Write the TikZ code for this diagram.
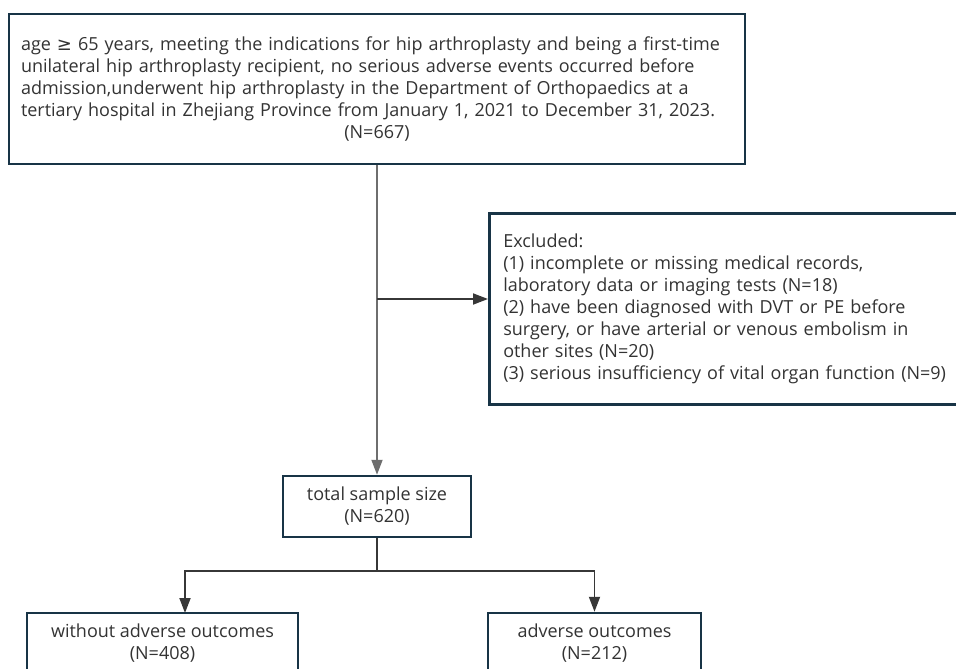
\documentclass[tikz,border=0pt]{standalone}
\usepackage{fontspec}
\setmainfont{Open Sans}
\newfontfamily\symfont{DejaVu Sans}
\usetikzlibrary{arrows.meta}
\definecolor{boxc}{RGB}{24,52,70}
\definecolor{txtc}{RGB}{51,51,51}
\definecolor{linec}{RGB}{55,55,55}
\definecolor{linelight}{RGB}{110,110,110}
\begin{document}
\begin{tikzpicture}[x=1pt,y=-1pt,
  box/.style={draw=boxc, line width=2.5pt, fill=white, text=txtc,
    font=\fontsize{18}{22}\selectfont, inner sep=0pt},
  conn/.style={draw=linec, line width=1.8pt, -{Triangle[length=15pt,width=11pt]}},
  plainconn/.style={draw=linec, line width=1.8pt},
]
\useasboundingbox (0,0) rectangle (956,669);
\clip (0,0) rectangle (956,669);

\node[box, minimum width=736pt, minimum height=150pt, text width=712pt, align=left] (top) at (377,89)
{age {\symfont ≥} 65 years, meeting the indications for hip arthroplasty and being a first-time\\
unilateral hip arthroplasty recipient, no serious adverse events occurred before\\
admission,underwent hip arthroplasty in the Department of Orthopaedics at a\\
tertiary hospital in Zhejiang Province from January 1, 2021 to December 31, 2023.\\
\hspace*{\fill}(N=667)\hspace*{\fill}};

\node[box, anchor=north west, minimum height=191pt, text width=470pt, inner xsep=14pt, align=left] (excl) at (488,212)
{Excluded:\\
(1) incomplete or missing medical records,\\
laboratory data or imaging tests (N=18)\\
(2) have been diagnosed with DVT or PE before\\
surgery, or have arterial or venous embolism in\\
other sites (N=20)\\
(3) serious insufficiency of vital organ function (N=9)};

\node[box, minimum width=188pt, minimum height=61pt, align=center] (total) at (377,506.5)
{total sample size\\(N=620)};

\node[box, minimum width=271pt, minimum height=61pt, align=center] (left) at (162.5,643.5)
{without adverse outcomes\\(N=408)};

\node[box, minimum width=213pt, minimum height=61pt, align=center] (right) at (594.5,643.5)
{adverse outcomes\\(N=212)};

\draw[conn, draw=linelight, fill=linelight] (top.south) -- (total.north);
\coordinate (br) at (377,299);
\draw[conn] (br) -- (br -| excl.west);
\coordinate (sp) at (377,571);
\draw[plainconn] (total.south) -- (sp);
\coordinate (lt) at (185,613);
\draw[conn] (sp) -| (lt);
\draw[conn] (sp) -| (right.north);
\end{tikzpicture}
\end{document}
